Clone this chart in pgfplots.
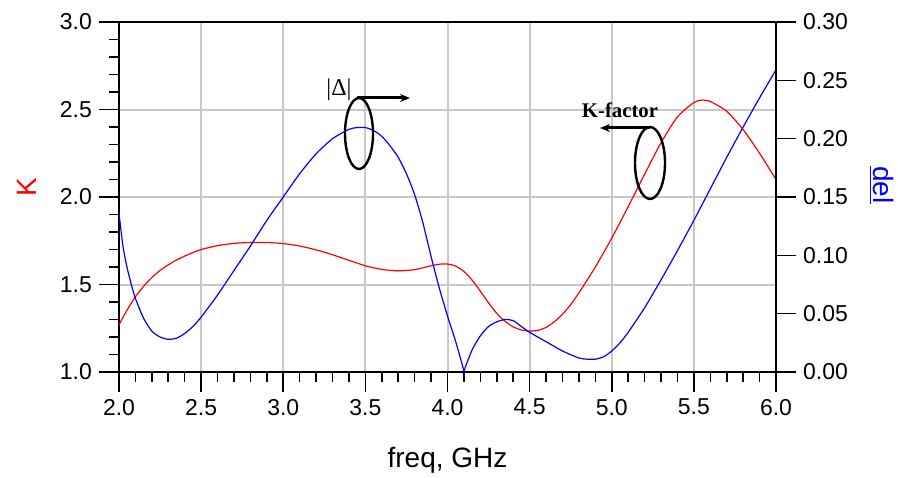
\documentclass[border=0pt]{standalone}
\usepackage{pgfplots}
\pgfplotsset{compat=1.18}
\usepackage{pgfplotstable}
\usepackage{fontspec}
\setmainfont{Liberation Sans}
\newfontfamily\annotfont{Liberation Serif}
\usetikzlibrary{arrows.meta}

\definecolor{kred}{RGB}{255,0,0}
\definecolor{dblue}{RGB}{0,0,255}
\definecolor{gridgray}{RGB}{200,200,200}

% stability factor K versus frequency
\pgfplotstableread{
f     K
2.00  1.270
2.05  1.355
2.10  1.430
2.15  1.490
2.20  1.540
2.25  1.580
2.30  1.6125
2.35  1.640
2.40  1.6625
2.45  1.6825
2.50  1.700
2.60  1.722
2.70  1.735
2.80  1.740
2.90  1.740
3.00  1.734
3.10  1.720
3.20  1.698
3.30  1.670
3.40  1.638
3.50  1.607
3.60  1.586
3.70  1.578
3.80  1.585
3.90  1.607
3.95  1.616
4.00  1.617
4.05  1.605
4.10  1.575
4.15  1.525
4.20  1.462
4.25  1.395
4.30  1.335
4.35  1.290
4.40  1.258
4.45  1.240
4.50  1.234
4.55  1.238
4.60  1.255
4.65  1.287
4.70  1.330
4.75  1.385
4.80  1.452
4.90  1.600
5.00  1.765
5.10  1.945
5.20  2.130
5.30  2.310
5.40  2.458
5.50  2.540
5.55  2.554
5.60  2.546
5.70  2.490
5.80  2.385
5.90  2.250
6.00  2.100
}\kdata

% |Delta| versus frequency, below and above the null near 4.1 GHz
\pgfplotstableread{
f     del
2.000 0.136
2.025 0.107
2.050 0.089
2.075 0.075
2.100 0.063
2.150 0.046
2.200 0.035
2.250 0.030
2.300 0.028
2.350 0.029
2.400 0.033
2.450 0.039
2.500 0.047
2.600 0.066
2.700 0.087
2.800 0.108
2.900 0.130
3.000 0.150
3.100 0.170
3.200 0.187
3.300 0.200
3.400 0.208
3.450 0.2095
3.500 0.2095
3.550 0.207
3.600 0.202
3.650 0.194
3.700 0.184
3.750 0.170
3.800 0.152
3.850 0.128
3.900 0.099
3.950 0.072
4.000 0.048
4.050 0.026
4.100 0.001
}\deldataA

\pgfplotstableread{
f     del
4.100 0.001
4.150 0.019
4.200 0.031
4.250 0.039
4.300 0.043
4.350 0.045
4.400 0.044
4.450 0.039
4.500 0.034
4.600 0.026
4.700 0.018
4.800 0.012
4.850 0.011
4.900 0.011
4.950 0.013
5.000 0.018
5.050 0.025
5.100 0.034
5.200 0.055
5.300 0.079
5.400 0.104
5.500 0.130
5.600 0.157
5.700 0.184
5.800 0.210
5.900 0.235
6.000 0.259
}\deldataB

\begin{document}
\begin{tikzpicture}
\begin{axis}[
  at={(0,0)}, anchor=south west,
  scale only axis, width=328.5pt, height=175pt,
  xmin=2, xmax=6, ymin=1, ymax=3,
  xtick={2,2.5,3,3.5,4,4.5,5,5.5,6},
  ytick={1,1.5,2,2.5,3},
  minor x tick num=4, minor y tick num=4,
  xtick pos=lower, ytick pos=left,
  tick align=outside,
  major tick length=10pt, minor tick length=5pt,
  grid=major,
  major grid style={gridgray, line width=1pt},
  axis line style={black, line width=0.8pt},
  tick style={black, line width=0.8pt},
  /pgf/number format/assume math mode=true,
  /pgf/number format/.cd, fixed, fixed zerofill, precision=1, /pgfplots/.cd,
  ticklabel style={font=\fontsize{11.5}{13}\selectfont},
  xlabel={freq, GHz},
  xlabel style={font=\fontsize{14}{16}\selectfont, at={(rel axis cs:0.5,0)}, anchor=center, yshift=-44pt},
]
\addplot[kred, line width=0.6pt, smooth, tension=0.4] table[x=f, y=K] {\kdata};
\end{axis}

\begin{axis}[
  at={(0,0)}, anchor=south west,
  scale only axis, width=328.5pt, height=175pt,
  xmin=2, xmax=6, ymin=0, ymax=0.30,
  axis x line=none, axis y line*=right,
  ytick={0,0.05,0.1,0.15,0.2,0.25,0.3},
  tick align=outside,
  major tick length=10pt,
  axis line style={black, line width=0.8pt},
  tick style={black, line width=0.8pt},
  /pgf/number format/assume math mode=true,
  /pgf/number format/.cd, fixed, fixed zerofill, precision=2, /pgfplots/.cd,
  ticklabel style={font=\fontsize{11.5}{13}\selectfont},
]
\addplot[dblue, line width=0.6pt, smooth, tension=0.4] table[x=f, y=del] {\deldataA};
\addplot[dblue, line width=0.6pt, smooth, tension=0.4] table[x=f, y=del] {\deldataB};
\end{axis}

% frame top and right
\draw[black, line width=0.8pt] (0,175pt) -- (328.5pt,175pt) -- (328.5pt,0);

% axis titles
\node[kred, rotate=90, font=\fontsize{14}{16}\selectfont] at (-46pt,92.5pt) {K};
\node[dblue, rotate=-90, font=\fontsize{14}{16}\selectfont, inner sep=0pt] at (381pt,93.5pt) {\underline{del}};

% callouts
\node[font=\annotfont\fontsize{12}{14}\selectfont] at (110pt,141pt) {|Δ|};
\draw[line width=1.5pt, -{Stealth[length=5pt,width=4pt]}] (119pt,137pt) -- (145.5pt,137pt);
\draw[line width=1.2pt] (120pt,119.25pt) ellipse [x radius=7pt, y radius=17.75pt];

\node[font=\annotfont\bfseries\fontsize{10.4}{12}\selectfont] at (250.5pt,131pt) {K-factor};
\draw[line width=1.5pt, -{Stealth[length=5pt,width=4pt]}] (265.5pt,122pt) -- (240.5pt,122pt);
\draw[line width=1.2pt] (265.5pt,104.5pt) ellipse [x radius=7.5pt, y radius=18pt];

\pgfresetboundingbox
\useasboundingbox (-59.5pt,-52.5pt) rectangle (389.5pt,186pt);
\end{tikzpicture}
\end{document}
